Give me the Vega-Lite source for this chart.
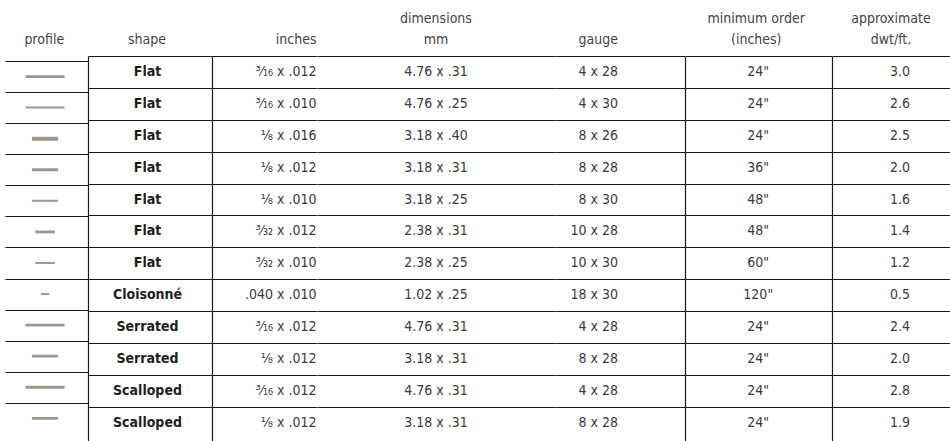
{
  "$schema": "https://vega.github.io/schema/vega-lite/v6.json",
  "padding": {"left": 5, "top": 12, "right": 0, "bottom": 0},
  "bounds": "flush",
  "spacing": 0,
  "background": "white",
  "data": {"values": [
    {"row": 1, "shape": "Flat", "inches": "³⁄₁₆ x .012", "mm": "4.76 x .31", "gauge": "4 x 28", "order": "24\"", "dwt": 3.0, "w_mm": 4.76, "t_mm": 0.31},
    {"row": 2, "shape": "Flat", "inches": "³⁄₁₆ x .010", "mm": "4.76 x .25", "gauge": "4 x 30", "order": "24\"", "dwt": 2.6, "w_mm": 4.76, "t_mm": 0.25},
    {"row": 3, "shape": "Flat", "inches": "⅛ x .016", "mm": "3.18 x .40", "gauge": "8 x 26", "order": "24\"", "dwt": 2.5, "w_mm": 3.18, "t_mm": 0.40},
    {"row": 4, "shape": "Flat", "inches": "⅛ x .012", "mm": "3.18 x .31", "gauge": "8 x 28", "order": "36\"", "dwt": 2.0, "w_mm": 3.18, "t_mm": 0.31},
    {"row": 5, "shape": "Flat", "inches": "⅛ x .010", "mm": "3.18 x .25", "gauge": "8 x 30", "order": "48\"", "dwt": 1.6, "w_mm": 3.18, "t_mm": 0.25},
    {"row": 6, "shape": "Flat", "inches": "³⁄₃₂ x .012", "mm": "2.38 x .31", "gauge": "10 x 28", "order": "48\"", "dwt": 1.4, "w_mm": 2.38, "t_mm": 0.31},
    {"row": 7, "shape": "Flat", "inches": "³⁄₃₂ x .010", "mm": "2.38 x .25", "gauge": "10 x 30", "order": "60\"", "dwt": 1.2, "w_mm": 2.38, "t_mm": 0.25},
    {"row": 8, "shape": "Cloisonné", "inches": ".040 x .010", "mm": "1.02 x .25", "gauge": "18 x 30", "order": "120\"", "dwt": 0.5, "w_mm": 1.02, "t_mm": 0.25},
    {"row": 9, "shape": "Serrated", "inches": "³⁄₁₆ x .012", "mm": "4.76 x .31", "gauge": "4 x 28", "order": "24\"", "dwt": 2.4, "w_mm": 4.76, "t_mm": 0.31},
    {"row": 10, "shape": "Serrated", "inches": "⅛ x .012", "mm": "3.18 x .31", "gauge": "8 x 28", "order": "24\"", "dwt": 2.0, "w_mm": 3.18, "t_mm": 0.31},
    {"row": 11, "shape": "Scalloped", "inches": "³⁄₁₆ x .012", "mm": "4.76 x .31", "gauge": "4 x 28", "order": "24\"", "dwt": 2.8, "w_mm": 4.76, "t_mm": 0.31},
    {"row": 12, "shape": "Scalloped", "inches": "⅛ x .012", "mm": "3.18 x .31", "gauge": "8 x 28", "order": "24\"", "dwt": 1.9, "w_mm": 3.18, "t_mm": 0.31}
  ]},
  "resolve": {"scale": {"y": "independent", "x": "independent"}, "axis": {"y": "independent"}},
  "hconcat": [
    {
      "width": 82.5, "height": 385.5,
      "title": {"text": "profile", "anchor": "middle", "dx": -2},
      "mark": {"type": "bar", "orient": "horizontal", "color": "#a1958a"},
      "encoding": {
        "x": {"field": "w_mm", "type": "quantitative", "stack": "center", "scale": {"domain": [-2.5, 7.56], "nice": false, "zero": false}, "axis": null},
        "y": {"field": "row", "type": "quantitative", "scale": {"domain": [0.5, 12.585], "reverse": true, "nice": false, "zero": false},
              "axis": {"orient": "left", "domain": false, "ticks": false, "labels": false, "title": null, "grid": true, "values": [0.5,1.5,2.5,3.5,4.5,5.5,6.5,7.5,8.5,9.5,10.5,11.5]}},
        "size": {"field": "t_mm", "type": "quantitative", "scale": {"domain": [0.25, 0.4], "range": [2, 4], "zero": false}, "legend": null}
      }
    },
    {
      "width": 124, "height": 385.5,
      "title": {"text": "shape", "anchor": "middle", "dx": -3},
      "mark": {"type": "text", "fontWeight": "bold", "color": "#1e1e1e", "dx": -2.5},
      "encoding": {
        "text": {"field": "shape", "type": "nominal"},
        "y": {"field": "row", "type": "quantitative", "scale": {"domain": [0.5, 12.585], "reverse": true, "nice": false, "zero": false},
              "axis": {"orient": "left", "domain": true, "ticks": false, "labels": false, "title": null, "grid": true, "values": [0.5,1.5,2.5,3.5,4.5,5.5,6.5,7.5,8.5,9.5,10.5,11.5]}}
      }
    },
    {
      "width": 104.5, "height": 385.5,
      "title": {"text": "inches", "anchor": "end"},
      "mark": {"type": "text", "x": "width", "align": "right"},
      "encoding": {
        "text": {"field": "inches", "type": "nominal"},
        "y": {"field": "row", "type": "quantitative", "scale": {"domain": [0.5, 12.585], "reverse": true, "nice": false, "zero": false},
              "axis": {"orient": "left", "domain": true, "ticks": false, "labels": false, "title": null, "grid": true, "values": [0.5,1.5,2.5,3.5,4.5,5.5,6.5,7.5,8.5,9.5,10.5,11.5]}}
      }
    },
    {
      "width": 238, "height": 385.5,
      "title": {"text": ["dimensions", "mm"], "anchor": "middle"},
      "mark": {"type": "text"},
      "encoding": {
        "text": {"field": "mm", "type": "nominal"},
        "y": {"field": "row", "type": "quantitative", "scale": {"domain": [0.5, 12.585], "reverse": true, "nice": false, "zero": false},
              "axis": {"orient": "left", "domain": false, "ticks": false, "labels": false, "title": null, "grid": true, "values": [0.5,1.5,2.5,3.5,4.5,5.5,6.5,7.5,8.5,9.5,10.5,11.5]}}
      }
    },
    {
      "width": 129.5, "height": 385.5,
      "title": {"text": "gauge", "anchor": "end", "dx": -66.5},
      "mark": {"type": "text", "x": "width", "align": "right", "dx": -66.5},
      "encoding": {
        "text": {"field": "gauge", "type": "nominal"},
        "y": {"field": "row", "type": "quantitative", "scale": {"domain": [0.5, 12.585], "reverse": true, "nice": false, "zero": false},
              "axis": {"orient": "left", "domain": false, "ticks": false, "labels": false, "title": null, "grid": true, "values": [0.5,1.5,2.5,3.5,4.5,5.5,6.5,7.5,8.5,9.5,10.5,11.5]}}
      }
    },
    {
      "width": 146.5, "height": 385.5,
      "title": {"text": ["minimum order", "(inches)"], "anchor": "middle", "dx": -2},
      "mark": {"type": "text"},
      "encoding": {
        "text": {"field": "order", "type": "nominal"},
        "y": {"field": "row", "type": "quantitative", "scale": {"domain": [0.5, 12.585], "reverse": true, "nice": false, "zero": false},
              "axis": {"orient": "left", "domain": true, "ticks": false, "labels": false, "title": null, "grid": true, "values": [0.5,1.5,2.5,3.5,4.5,5.5,6.5,7.5,8.5,9.5,10.5,11.5]}}
      }
    },
    {
      "width": 120, "height": 385.5,
      "title": {"text": ["approximate", "dwt/ft."], "anchor": "middle", "dx": -1},
      "mark": {"type": "text", "dx": 8},
      "encoding": {
        "text": {"field": "dwt", "type": "quantitative", "format": ".1f"},
        "y": {"field": "row", "type": "quantitative", "scale": {"domain": [0.5, 12.585], "reverse": true, "nice": false, "zero": false},
              "axis": {"orient": "left", "domain": true, "ticks": false, "labels": false, "title": null, "grid": true, "values": [0.5,1.5,2.5,3.5,4.5,5.5,6.5,7.5,8.5,9.5,10.5,11.5]}}
      }
    }
  ],
  "config": {
    "view": {"stroke": null},
    "font": "Liberation Sans Narrow, DejaVu Sans Condensed, sans-serif",
    "text": {"font": "Liberation Sans Narrow, DejaVu Sans Condensed, sans-serif", "fontSize": 14, "color": "#3a3a3a", "baseline": "middle"},
    "title": {"font": "Liberation Sans Narrow, DejaVu Sans Condensed, sans-serif", "fontSize": 14, "fontWeight": "normal", "color": "#444444", "lineHeight": 21, "offset": 9, "baseline": "bottom"},
    "axis": {"domainColor": "#1a1a1a", "domainWidth": 1.2, "gridColor": "#1a1a1a", "gridWidth": 1.2, "gridOpacity": 1}
  }
}
